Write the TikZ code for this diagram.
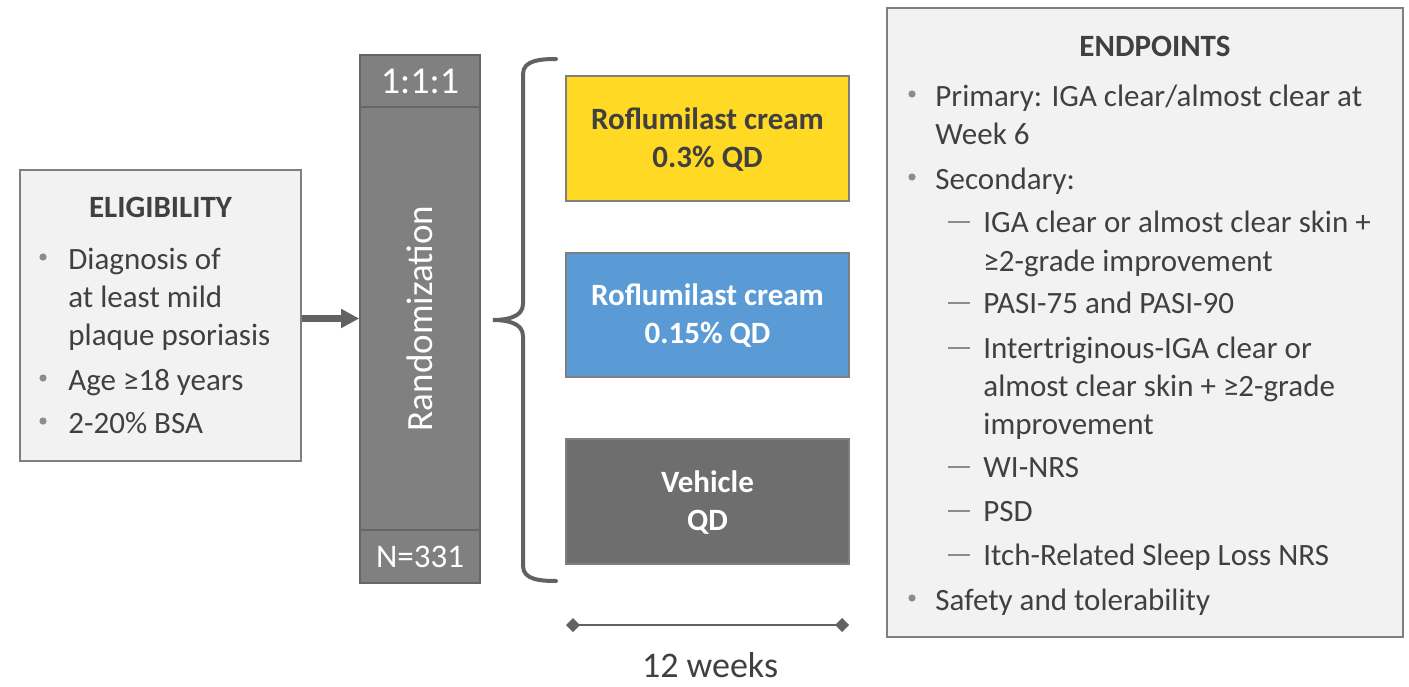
\documentclass[tikz,border=0pt]{standalone}
\usepackage{fontspec}
\setmainfont{Carlito}
\usetikzlibrary{arrows.meta}
\definecolor{txtgray}{HTML}{404040}
\definecolor{dotgray}{HTML}{8C8C8C}
\definecolor{boxline}{HTML}{7F7F7F}
\definecolor{boxfill}{HTML}{F2F2F2}
\definecolor{randgray}{HTML}{808080}
\definecolor{randline}{HTML}{666666}
\definecolor{armyellow}{HTML}{FFD923}
\definecolor{armblue}{HTML}{5B9BD5}
\definecolor{armgray}{HTML}{6E6E6E}
\definecolor{linkgray}{HTML}{626262}

\begin{document}
\begin{tikzpicture}[x=0.5pt, y=-0.5pt, font=\fontsize{15.5}{19}\selectfont,
    infobox/.style={draw=boxline, fill=boxfill, line width=0.8pt, inner sep=0pt},
    randcell/.style={draw=randline, fill=randgray, line width=0.8pt, inner sep=0pt,
        minimum width=60pt, text=white, font=\fontsize{17}{20}\selectfont},
    arm/.style={draw=boxline, line width=0.6pt, minimum width=141.5pt, align=center,
        text depth=1pt, font=\fontsize{15.5}{19}\selectfont\bfseries},
    title/.style={anchor=base, inner sep=0pt, text=txtgray, font=\fontsize{15.5}{19}\selectfont\bfseries},
    item/.style={anchor=base west, inner sep=0pt, text=txtgray},
    dot/.style={circle, fill=dotgray, inner sep=0pt, minimum size=3.6pt},
    subdash/.style={rectangle, fill=dotgray, inner sep=0pt, minimum width=11pt, minimum height=0.9pt}]

    \useasboundingbox (0,0) rectangle (1409,686);

    % eligibility
    \node[infobox, minimum width=140.5pt, minimum height=145.5pt] (elig) at (160.5,315.5) {};
    \node[title] (eligT) at (160.5,217) {ELIGIBILITY};
    \node[dot] (e1d) at (43,257) {};
    \node[item] (e1) at (68,269) {Diagnosis of};
    \node[item] (e1b) at (68,307) {at least mild};
    \node[item] (e1c) at (68,345) {plaque psoriasis};
    \node[dot] (e2d) at (43,378) {};
    \node[item] (e2) at (68,390) {Age ≥18 years};
    \node[dot] (e3d) at (43,421) {};
    \node[item] (e3) at (68,433) {2-20\% BSA};

    % randomization column
    \node[randcell, minimum height=26pt, font=\fontsize{19}{22}\selectfont] (ratio) at (420,81) {1:1:1};
    \node[randcell, minimum height=211.5pt] (rand) at (420,318.5) {};
    \node[randcell, rotate=90, draw=none, fill=none, minimum width=0pt, font=\fontsize{18.5}{22}\selectfont] (randT) at (rand.center) {Randomization};
    \node[randcell, minimum height=26.5pt, font=\fontsize{16.5}{20}\selectfont] (nn) at (420,556.5) {N=331};

    \draw[linkgray, line width=3.5pt, -{Triangle[length=9pt,width=9pt]}] (elig.east |- rand.west) -- (rand.west);

    % brace
    \draw[linkgray, line width=2pt, line cap=round]
        (556,59) to[out=180,in=90] (523,74) -- (523,304) to[out=-90,in=0] (493,320)
        to[out=0,in=90] (523,336) -- (523,566) to[out=-90,in=180] (556,581);

    % arms
    \node[arm, fill=armyellow, text=txtgray, minimum height=62.5pt] (arm1) at (707.5,138.5) {Roflumilast cream\\0.3\% QD};
    \node[arm, fill=armblue, text=white, minimum height=62pt] (arm2) at (707.5,315) {Roflumilast cream\\0.15\% QD};
    \node[arm, fill=armgray, text=white, minimum height=62.5pt] (arm3) at (707.5,501.5) {Vehicle\\QD};

    % timeline
    \coordinate (t1) at (566,625);
    \coordinate (t2) at (849,625);
    \draw[linkgray, line width=1.2pt, {Turned Square[length=7pt,width=7pt]}-{Turned Square[length=7pt,width=7pt]}] (t1) -- (t2);
    \node[anchor=base, inner sep=0pt, text=txtgray, font=\fontsize{18}{22}\selectfont] (weeks) at (710,677) {12 weeks};

    % endpoints
    \node[infobox, minimum width=258pt, minimum height=314.5pt] (endp) at (1145,322.5) {};
    \node[title] (endpT) at (1155,56) {ENDPOINTS};
    \node[dot] (p1d) at (912,94) {};
    \node[item] (p1) at (935,106) {Primary: IGA clear/almost clear at};
    \node[item] (p1b) at (935,144) {Week 6};
    \node[dot] (p2d) at (912,177) {};
    \node[item] (p2) at (935,189) {Secondary:};
    \node[subdash] (s1d) at (959,222) {};
    \node[item] (s1) at (983,232) {IGA clear or almost clear skin +};
    \node[item] (s1b) at (983,271) {≥2-grade improvement};
    \node[subdash] (s2d) at (959,303) {};
    \node[item] (s2) at (983,313) {PASI-75 and PASI-90};
    \node[subdash] (s3d) at (959,348) {};
    \node[item] (s3) at (983,358) {Intertriginous-IGA clear or};
    \node[item] (s3b) at (983,396) {almost clear skin + ≥2-grade};
    \node[item] (s3c) at (983,434) {improvement};
    \node[subdash] (s4d) at (959,467) {};
    \node[item] (s4) at (983,477) {WI-NRS};
    \node[subdash] (s5d) at (959,511) {};
    \node[item] (s5) at (983,521) {PSD};
    \node[subdash] (s6d) at (959,555) {};
    \node[item] (s6) at (983,565) {Itch-Related Sleep Loss NRS};
    \node[dot] (p3d) at (912,598) {};
    \node[item] (p3) at (935,610) {Safety and tolerability};
\end{tikzpicture}
\end{document}
